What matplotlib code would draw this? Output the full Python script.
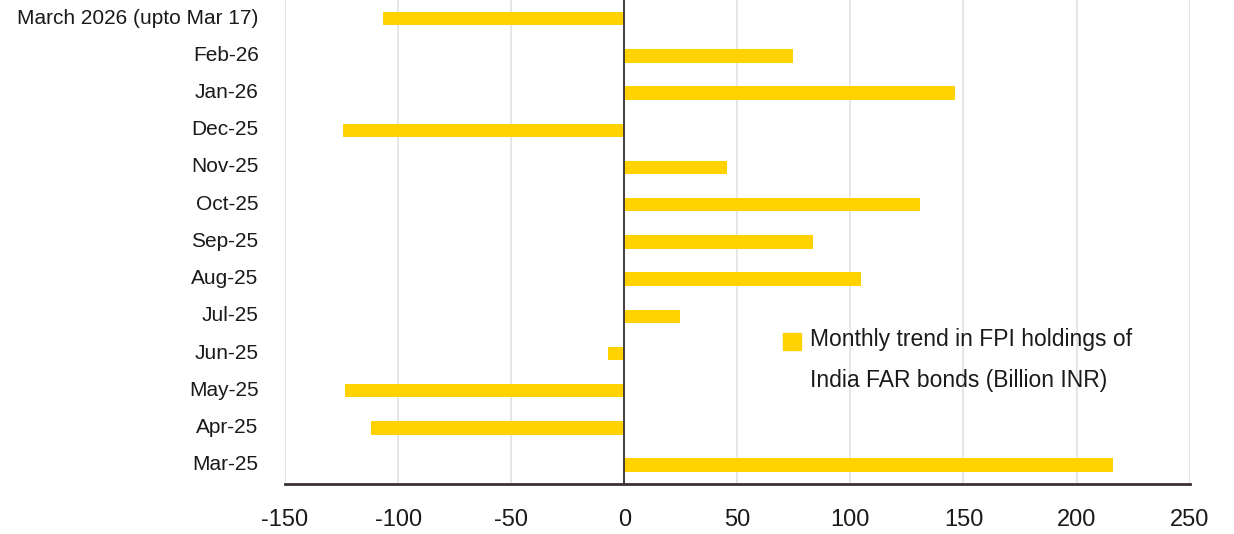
import matplotlib
matplotlib.use('Agg')
import matplotlib.pyplot as plt
import matplotlib.transforms as mtransforms
from matplotlib.patches import Rectangle

plt.rcParams['font.family'] = ['Liberation Sans', 'DejaVu Sans']

# 上から順のカテゴリ
months = ['March 2026 (upto Mar 17)', 'Feb-26', 'Jan-26', 'Dec-25', 'Nov-25',
          'Oct-25', 'Sep-25', 'Aug-25', 'Jul-25', 'Jun-25', 'May-25',
          'Apr-25', 'Mar-25']
values = [-106.5, 74.7, 146.3, -124.2, 45.5, 130.8, 83.5, 104.6, 24.7,
          -7.1, -123.3, -111.8, 216.1]
xticks = [-150, -100, -50, 0, 50, 100, 150, 200, 250]
legend_label = 'Monthly trend in FPI holdings of\nIndia FAR bonds (Billion INR)'

YELLOW = '#FFD200'
DARK = '#3a3035'
TEXT = '#1a1a1a'

fig = plt.figure(figsize=(12.34, 5.34), dpi=100)
ax = fig.add_axes([0.231, 0.094, 0.733, 0.906])

ypos = list(range(len(months)))[::-1]
ax.barh(ypos, values, height=0.36, color=YELLOW, zorder=3)

ax.set_xlim(-150, 250)
ax.set_ylim(-0.5, len(months) - 0.5)
ax.set_xticks(xticks)
ax.set_xticklabels([str(t) for t in xticks])
ax.set_yticks(ypos)
ax.set_yticklabels(months)
ax.tick_params(axis='y', length=0, pad=19, labelsize=15, colors=TEXT)
ax.tick_params(axis='x', length=0, pad=18, labelsize=17, colors=TEXT)

# ラベルを少し上へ
shift = mtransforms.ScaledTranslation(0, 1.8 / 72, fig.dpi_scale_trans)
for lab in ax.get_yticklabels():
    lab.set_transform(lab.get_transform() + shift)

ax.grid(axis='x', color='#e2e2e2', linewidth=1.2, zorder=0)
ax.axvline(0, color=DARK, linewidth=1.3, zorder=4)
for s in ['top', 'right', 'left']:
    ax.spines[s].set_visible(False)
ax.spines['bottom'].set_color(DARK)
ax.spines['bottom'].set_linewidth(2)
ax.spines['bottom'].set_zorder(5)

# 凡例（手作り）
ax.add_patch(Rectangle((0.551, 0.277), 0.019, 0.035, transform=ax.transAxes,
                       color=YELLOW, clip_on=False))
ax.text(0.580, 0.256, legend_label, transform=ax.transAxes, fontsize=16.5,
        va='center', ha='left', linespacing=2.05, color=TEXT)

plt.savefig('out.png', dpi=100)
